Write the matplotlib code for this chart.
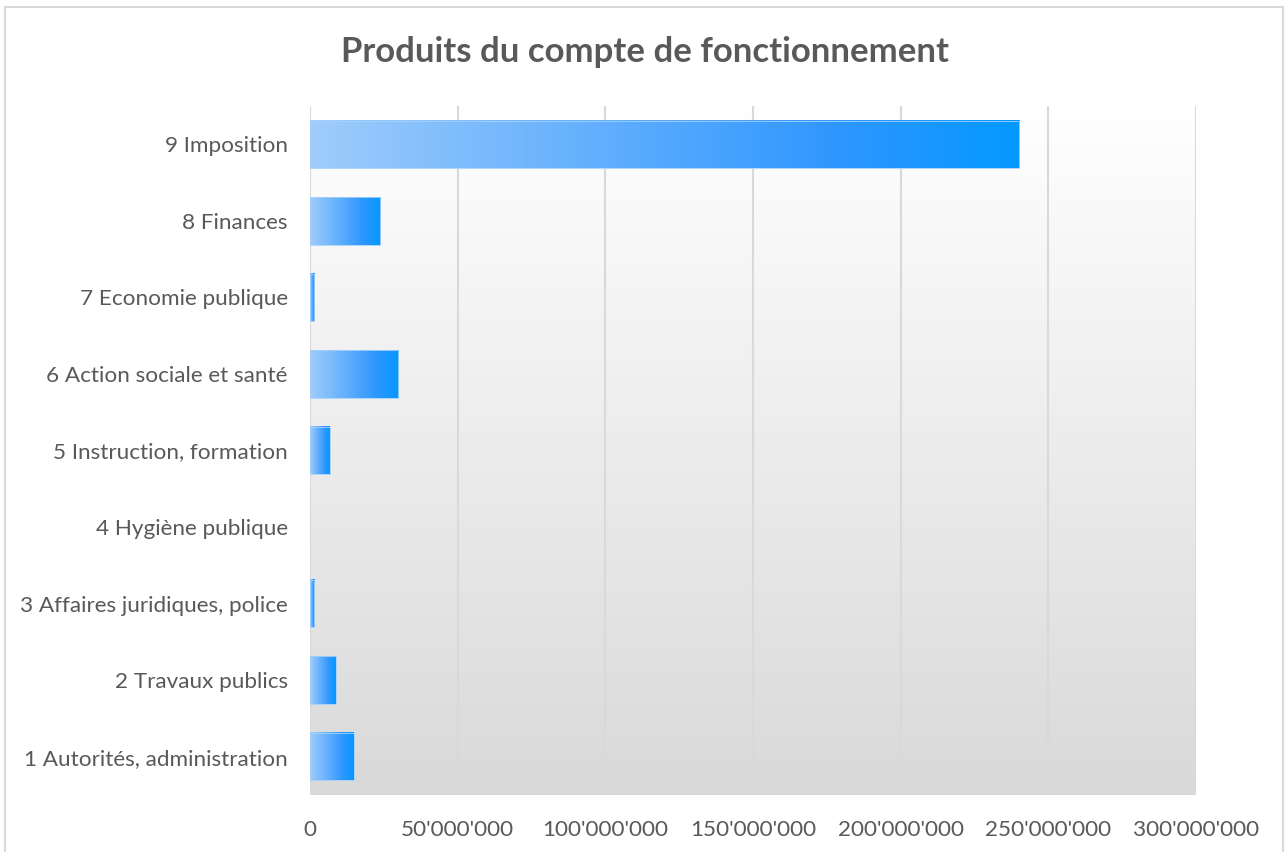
import numpy as np
import matplotlib.pyplot as plt
from matplotlib.colors import LinearSegmentedColormap
from matplotlib.patches import Rectangle

plt.rcParams['font.family'] = ['Lato', 'DejaVu Sans']

# données
categories = ['1 Autorités, administration', '2 Travaux publics', '3 Affaires juridiques, police',
              '4 Hygiène publique', '5 Instruction, formation', '6 Action sociale et santé',
              '7 Economie publique', '8 Finances', '9 Imposition']
values = [14.8e6, 8.7e6, 1.4e6, 0, 6.7e6, 29.9e6, 1.4e6, 23.8e6, 240.2e6]
xticks = [0, 50e6, 100e6, 150e6, 200e6, 250e6, 300e6]
xticklabels = ['0', "50'000'000", "100'000'000", "150'000'000", "200'000'000", "250'000'000", "300'000'000"]
title = 'Produits du compte de fonctionnement'

text_col = '#595959'
grid_col = '#D9D9D9'

fig = plt.figure(figsize=(12.86, 8.52), dpi=100)
# cadre du graphique (le bas est coupé dans l'original)
fig.patches.append(Rectangle((5 / 1286, -0.05), 1278 / 1286, (852 - 7) / 852 + 0.05,
                             transform=fig.transFigure, fill=False, edgecolor='#D9D9D9', lw=1.5))
ax = fig.add_axes([310 / 1286, 57 / 852, 886 / 1286, 689 / 852])

xmax = 300e6
n = len(categories)

# fond dégradé de la zone de tracé
bg = LinearSegmentedColormap.from_list('bg', ['#D9D9D9', '#FFFFFF'])
ax.imshow(np.linspace(0, 1, 256).reshape(-1, 1), cmap=bg, aspect='auto',
          extent=[0, xmax, -0.5, n - 0.5], origin='lower', zorder=0)

# grille verticale
for t in xticks:
    ax.axvline(t, color=grid_col, lw=1.5, zorder=1)

# barres en dégradé
bar_cmap = LinearSegmentedColormap.from_list('bar', [(0, '#9FCCFB'), (0.75, '#2E96FF'), (1, '#0399FF')])
h = 0.62
grad = np.linspace(0, 1, 256).reshape(1, -1)
for i, v in enumerate(values):
    if v <= 0:
        continue
    ax.imshow(grad, cmap=bar_cmap, aspect='auto', extent=[0, v, i - h / 2, i + h / 2],
              zorder=2, interpolation='bilinear')
    ax.add_patch(Rectangle((0, i - h / 2), v, h, fill=False, edgecolor='#A6D1FA', lw=0.6, zorder=3))

ax.set_xlim(0, xmax)
ax.set_ylim(-0.5, n - 0.5)
ax.set_yticks(range(n))
ax.set_yticklabels(categories)
ax.set_xticks(xticks)
ax.set_xticklabels(xticklabels)
ax.tick_params(axis='both', length=0, labelsize=16.2, colors=text_col)
ax.tick_params(axis='y', pad=16)
ax.tick_params(axis='x', pad=18)
for s in ax.spines.values():
    s.set_visible(False)

fig.text(645 / 1286, 1 - 52 / 852, title, ha='center', va='center',
         fontsize=25, fontweight='bold', color=text_col)

plt.savefig('out.png', dpi=100)
plt.close()
